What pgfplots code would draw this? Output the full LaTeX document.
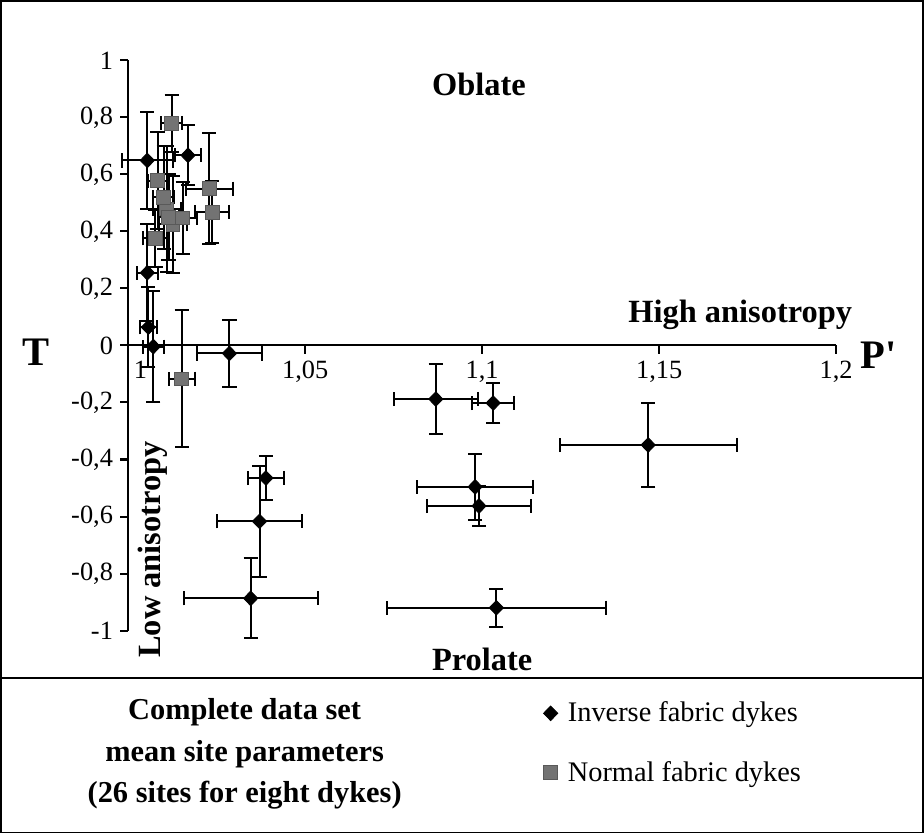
\documentclass[border=0pt]{standalone}
\usepackage{fontspec}
\setmainfont{Liberation Serif}
\usepackage{pgfplots}
\usepackage{pgfplotstable}
\pgfplotsset{compat=1.18}

% mean site parameters, P' and T with their errors
\pgfplotstableread{
x      y      ex     ey
1.0054 0.649  0.0072 0.17
1.0169 0.667  0.0036 0.105
1.0054 0.255  0.003  0.17
1.0057 0.064  0.0023 0.14
1.0071 -0.004 0.003  0.195
1.0286 -0.028 0.0091 0.117
1.0389 -0.465 0.005  0.078
1.0371 -0.617 0.012  0.195
1.0346 -0.887 0.0189 0.14
1.0869 -0.188 0.0119 0.124
1.1031 -0.202 0.006  0.069
1.1469 -0.349 0.025  0.147
1.0980 -0.496 0.0164 0.115
1.0991 -0.563 0.0146 0.07
1.1040 -0.920 0.031  0.067
}\inverse

\pgfplotstableread{
x      y      ex     ey
1.0123 0.78   0.003  0.10
1.0083 0.578  0.0026 0.17
1.0229 0.55   0.0066 0.195
1.0237 0.468  0.0049 0.11
1.0109 0.479  0.004  0.22
1.0126 0.425  0.004  0.17
1.0154 0.447  0.004  0.125
1.0077 0.376  0.0035 0.10
1.0114 0.45   0.003  0.15
1.0100 0.52   0.003  0.18
1.0151 -0.117 0.0037 0.24
}\normal

\begin{document}
\begin{tikzpicture}
\begin{axis}[
    scale only axis,
    width=349.5pt, height=281.5pt,
    xmin=1, xmax=1.2, ymin=-1, ymax=1,
    axis x line*=middle, axis y line*=left,
    axis line style={line width=1pt},
    tick align=outside, major tick length=4pt,
    tick style={black, line width=1pt},
    hide obscured x ticks=false, hide obscured y ticks=false,
    xtick={1,1.05,1.1,1.15,1.2},
    xticklabels={\hspace*{12pt}1,{1,05},{1,1},{1,15},{1,2}},
    ytick={-1,-0.8,-0.6,-0.4,-0.2,0,0.2,0.4,0.6,0.8,1},
    yticklabels={{-1},{-0,8},{-0,6},{-0,4},{-0,2},0,{0,2},{0,4},{0,6},{0,8},1},
    ticklabel style={font=\fontsize{13}{15}\selectfont},
    clip=false,
    legend style={at={(axis cs:1.1155,-1.22)}, anchor=north west, draw=none, fill=none,
        font=\fontsize{14}{16}\selectfont, row sep=14pt,
        nodes={inner xsep=5pt}},
    legend cell align=left,
]
\addplot[only marks, black, mark=diamond*, mark size=3.6pt,
    mark options={xscale=1.3},
    error bars/.cd, x dir=both, x explicit, y dir=both, y explicit,
    error bar style={line width=1pt, black},
    error mark options={rotate=90, black, mark size=3.5pt, line width=1pt}]
    table[x=x, y=y, x error=ex, y error=ey] {\inverse};
\addlegendentry{Inverse fabric dykes}
\addplot[only marks, black, mark=square*, mark size=3.4pt,
    mark options={fill=black!55, draw=black!65},
    error bars/.cd, x dir=both, x explicit, y dir=both, y explicit,
    error bar style={line width=1pt, black},
    error mark options={rotate=90, black, mark size=3.5pt, line width=1pt}]
    table[x=x, y=y, x error=ex, y error=ey] {\normal};
\addlegendentry{Normal fabric dykes}

\node[font=\bfseries\fontsize{16}{18}\selectfont] at (axis cs:1.0991,0.915) {Oblate};
\node[font=\bfseries\fontsize{16}{18}\selectfont] at (axis cs:1.1729,0.106) {High anisotropy};
\node[font=\bfseries\fontsize{16}{18}\selectfont] at (axis cs:1.1,-1.10) {Prolate};
\node[font=\bfseries\fontsize{16}{18}\selectfont, rotate=90] at (axis cs:1.0069,-0.716) {Low anisotropy};
\node[font=\bfseries\fontsize{20}{22}\selectfont] at (axis cs:0.974,-0.025) {T};
\node[font=\bfseries\fontsize{20}{22}\selectfont] at (axis cs:1.212,-0.035) {P\textquotesingle};
\node[font=\bfseries\fontsize{15}{20.5}\selectfont, align=center] at (axis cs:1.0329,-1.433)
    {Complete data set\\mean site parameters\\(26 sites for eight dykes)};
\draw[line width=0.75pt] (axis cs:0.964,1.209) rectangle (axis cs:1.2246,-1.709);
\draw[line width=0.75pt] (axis cs:0.964,-1.167) -- (axis cs:1.2246,-1.167);
\end{axis}
\end{tikzpicture}
\end{document}
